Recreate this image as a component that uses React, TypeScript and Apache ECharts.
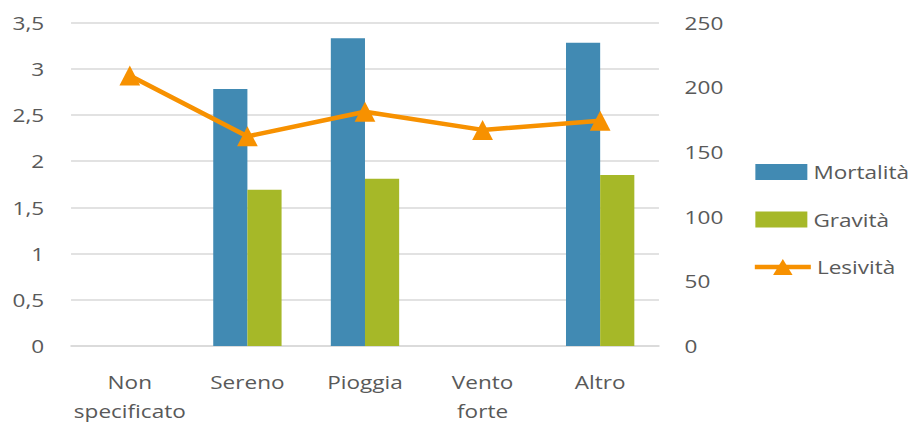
import React, { useEffect, useRef } from "react";
import * as echarts from "echarts";

const categories = ["Non\nspecificato", "Sereno", "Pioggia", "Vento\nforte", "Altro"];
const mortalita = [null, 2.78, 3.33, null, 3.28];
const gravita = [null, 1.69, 1.81, null, 1.85];
const lesivita = [209, 162, 181, 167, 174];
const leftTicks = { min: 0, max: 3.5, interval: 0.5 };
const rightTicks = { min: 0, max: 250, interval: 50 };

const SCALE_X = 914 / 749;
const FONT = "'Open Sans', 'Noto Sans', sans-serif";
const TEXT = "#595959";

export default function App() {
  const ref = useRef<HTMLDivElement>(null);
  useEffect(() => {
    if (!ref.current) return;
    const chart = echarts.init(ref.current, undefined, { renderer: "svg" });
    const labelStyle = { fontFamily: FONT, fontSize: 18.5, color: TEXT };
    chart.setOption({
      animation: false,
      grid: { left: 58.2, right: 209, top: 22.5, bottom: 78.5, containLabel: false },
      legend: [
        {
          orient: "vertical",
          left: 619,
          top: 162,
          padding: 0,
          itemWidth: 42.6,
          itemHeight: 16,
          itemGap: 27.5,
          textStyle: { ...labelStyle, lineHeight: 20 },
          data: [
            { name: "Mortalità", icon: "rect" },
            { name: "Gravità", icon: "rect" },
          ],
        },
        {
          orient: "vertical",
          left: 616.3,
          top: 257,
          padding: 0,
          itemWidth: 45.9,
          itemHeight: 20,
          textStyle: { ...labelStyle, lineHeight: 20 },
          lineStyle: { width: 4.5 },
          data: [{ name: "Lesività" }],
        },
      ],
      xAxis: {
        type: "category",
        data: categories,
        axisLine: { lineStyle: { color: "#D9D9D9", width: 1.5 } },
        axisTick: { show: false },
        axisLabel: { ...labelStyle, lineHeight: 29, margin: 21, interval: 0 },
      },
      yAxis: [
        {
          type: "value",
          ...leftTicks,
          axisLine: { show: false },
          axisTick: { show: false },
          splitLine: { lineStyle: { color: "#D9D9D9", width: 1.5 } },
          axisLabel: {
            ...labelStyle,
            margin: 22,
            formatter: (v: number) => String(v).replace(".", ","),
          },
        },
        {
          type: "value",
          ...rightTicks,
          axisLine: { show: false },
          axisTick: { show: false },
          splitLine: { show: false },
          axisLabel: { ...labelStyle, margin: 21 },
        },
      ],
      series: [
        {
          name: "Mortalità",
          type: "bar",
          data: mortalita,
          barWidth: 28,
          barGap: "0%",
          itemStyle: { color: "#418AB3" },
        },
        {
          name: "Gravità",
          type: "bar",
          data: gravita,
          barWidth: 28,
          barGap: "0%",
          itemStyle: { color: "#A6B828" },
        },
        {
          name: "Lesività",
          type: "line",
          yAxisIndex: 1,
          data: lesivita,
          symbol: "triangle",
          symbolSize: [17, 20],
          lineStyle: { color: "#F79100", width: 4.5 },
          itemStyle: { color: "#F79100" },
        },
      ],
    });
    return () => chart.dispose();
  }, []);
  return (
    <div
      ref={ref}
      style={{
        position: "absolute",
        left: 0,
        top: 0,
        width: 749,
        height: 425,
        transform: `scaleX(${SCALE_X})`,
        transformOrigin: "0 0",
      }}
    />
  );
}
